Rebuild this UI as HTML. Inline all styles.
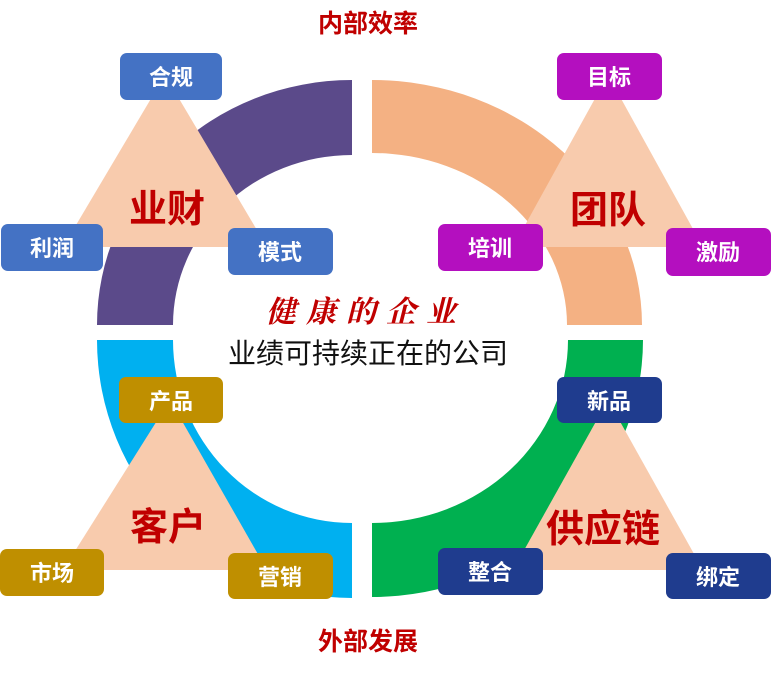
<!DOCTYPE html>
<html><head><meta charset="utf-8"><style>
body{margin:0;background:#fff;}
svg text{font-family:"Liberation Sans","Noto Sans CJK SC",sans-serif;}
</style></head><body>
<svg width="771" height="674" viewBox="0 0 771 674" xmlns="http://www.w3.org/2000/svg">
<path d="M352,80 A255,245 0 0 0 97,325 L173,325 A179,170 0 0 1 352,155 Z" fill="#5b4a8a"/>
<path d="M372,80 A270,245 0 0 1 642,325 L567,325 A195,172 0 0 0 372,153 Z" fill="#f4b183"/>
<path d="M97,340 A255,258 0 0 0 352,598 L352,523 A179,183 0 0 1 173,340 Z" fill="#00b0f0"/>
<path d="M643,340 A271,257 0 0 1 372,597 L372,523 A196,183 0 0 0 568,340 Z" fill="#00b050"/>
<g fill="#f8cbad">
<polygon points="165,75 63,247 267,247"/>
<polygon points="608,75 513,247 703,247"/>
<polygon points="170,400 63,570 267,570"/>
<polygon points="608,400 513,570 703,570"/>
</g>
<g font-size="22" font-weight="bold" fill="#fff" text-anchor="middle">
<rect x="120" y="53" width="102" height="47" rx="7" fill="#4472c4"/><text x="171" y="85">合规</text>
<rect x="1" y="224" width="102" height="47" rx="7" fill="#4472c4"/><text x="52" y="256">利润</text>
<rect x="228" y="228" width="105" height="47" rx="7" fill="#4472c4"/><text x="280" y="260">模式</text>
<rect x="557" y="53" width="105" height="47" rx="7" fill="#b40fbf"/><text x="609" y="85">目标</text>
<rect x="438" y="224" width="105" height="47" rx="7" fill="#b40fbf"/><text x="490" y="256">培训</text>
<rect x="666" y="228" width="105" height="48" rx="7" fill="#b40fbf"/><text x="718" y="260">激励</text>
<rect x="557" y="377" width="105" height="46" rx="7" fill="#1f3c8e"/><text x="609" y="409">新品</text>
<rect x="438" y="548" width="105" height="47" rx="7" fill="#1f3c8e"/><text x="490" y="580">整合</text>
<rect x="666" y="553" width="105" height="46" rx="7" fill="#1f3c8e"/><text x="718" y="585">绑定</text>
<rect x="119" y="377" width="104" height="46" rx="7" fill="#bf8f00"/><text x="171" y="409">产品</text>
<rect x="0" y="549" width="104" height="47" rx="7" fill="#bf8f00"/><text x="52" y="581">市场</text>
<rect x="228" y="553" width="105" height="46" rx="7" fill="#bf8f00"/><text x="280" y="585">营销</text>
</g>
<g font-weight="bold" fill="#c00000" text-anchor="middle">
<text x="368" y="32" font-size="25">内部效率</text>
<text x="368" y="650" font-size="25">外部发展</text>
<text x="167" y="222" font-size="38">业财</text>
<text x="608" y="223" font-size="38">团队</text>
<text x="168" y="540" font-size="38">客户</text>
<text x="603" y="542" font-size="38">供应链</text>
</g>
<text x="366" y="322" font-size="30" font-weight="bold" font-style="italic" fill="#c00000" text-anchor="middle" letter-spacing="10" style="font-family:'Noto Serif CJK SC',serif">健康的企业</text>
<text x="368" y="363" font-size="28" fill="#111" text-anchor="middle">业绩可持续正在的公司</text>
</svg>
</body></html>
